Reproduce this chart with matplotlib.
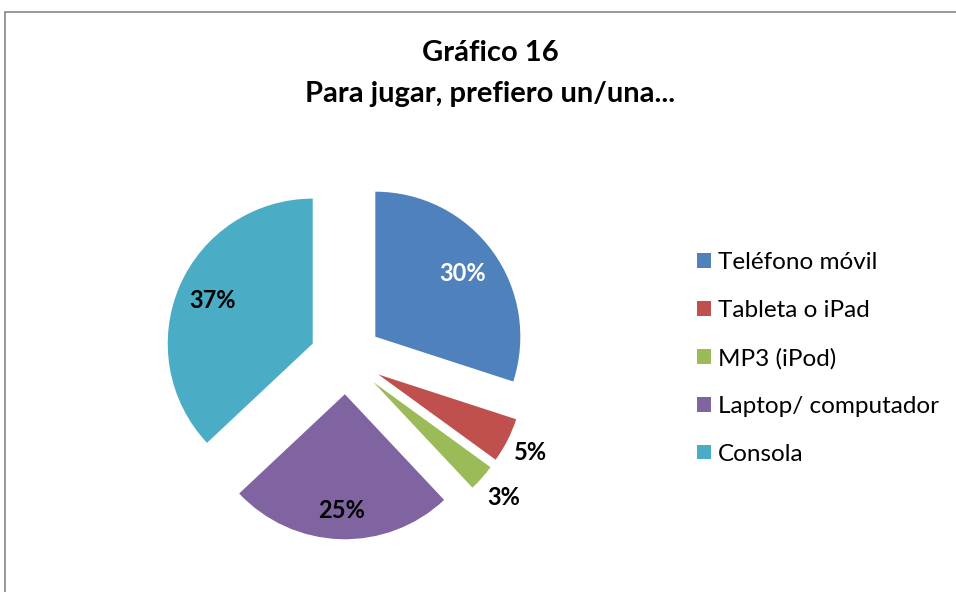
import numpy as np
import matplotlib.pyplot as plt
from matplotlib.patches import Rectangle, Patch

plt.rcParams['font.family'] = ['Lato', 'DejaVu Sans']

categorias = ['Teléfono móvil', 'Tableta o iPad', 'MP3 (iPod)',
              'Laptop/ computador', 'Consola']
valores = [30, 5, 3, 25, 37]
colores = ['#4F81BD', '#C0504D', '#9BBB59', '#8064A2', '#4BACC6']
explode = [0.25] * 5
# distancia de la etiqueta desde el centro de la porcion
dist_etiqueta = [0.74, 1.18, 1.2, 0.8, 0.75]
color_etiqueta = ['white', 'black', 'black', 'black', 'black']

W, H = 956, 592
fig = plt.figure(figsize=(W / 100, H / 100), dpi=100)

# marco del grafico
fig.add_artist(Rectangle((5 / W, -0.1), 1.2, 1.1 - 12 / H, transform=fig.transFigure,
                         fill=False, edgecolor='#868686', linewidth=1.2))

# ejes con 1 unidad = 145 px, centro en (346, 358)
R = 145.0
cx, cy = 346, 358
half = 200
ax = fig.add_axes([(cx - half) / W, (H - cy - half) / H, 2 * half / W, 2 * half / H])
wedges, _ = ax.pie(valores, colors=colores, explode=explode, startangle=90,
                   counterclock=False, radius=1,
                   wedgeprops=dict(linewidth=0))
ax.set_xlim(-half / R, half / R)
ax.set_ylim(-half / R, half / R)
ax.set_aspect('equal')
ax.axis('off')

for w, v, d, c, e in zip(wedges, valores, dist_etiqueta, color_etiqueta, explode):
    ang = np.deg2rad((w.theta1 + w.theta2) / 2)
    r = e + d
    ax.text(r * np.cos(ang), r * np.sin(ang), f'{v}%', ha='center', va='center',
            fontsize=17, fontweight='bold', color=c)

fig.text(490 / W, 1 - 53 / H, 'Gráfico 16', ha='center', va='center',
         fontsize=21, fontweight='bold')
fig.text(490 / W, 1 - 94 / H, 'Para jugar, prefiero un/una...', ha='center', va='center',
         fontsize=21, fontweight='bold')

handles = [Patch(facecolor=c, edgecolor='none') for c in colores]
fig.legend(handles, categorias, loc='upper left', bbox_to_anchor=(685 / W, 1 - 240 / H),
           frameon=False, fontsize=17.5, handlelength=0.55, handleheight=0.55,
           handletextpad=0.3, labelspacing=1.1, borderpad=0)

fig.savefig('out.png', dpi=100)
